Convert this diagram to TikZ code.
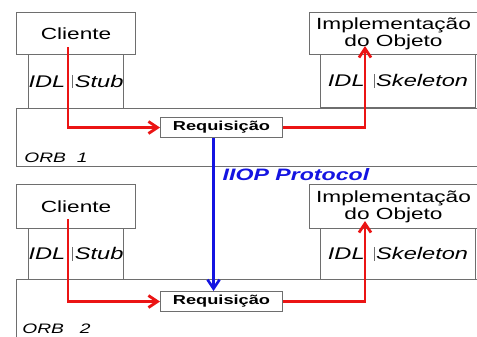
\documentclass[tikz,border=0pt]{standalone}
\usepackage{fontspec}
\setmainfont{Liberation Sans}[FakeStretch=1.4]
\usetikzlibrary{arrows.meta,positioning,calc}
\definecolor{frame}{RGB}{110,110,110}
\definecolor{call}{RGB}{235,20,20}
\definecolor{wire}{RGB}{20,20,225}
\tikzset{
  box/.style n args={2}{draw=frame,fill=white,line width=0.6pt,inner sep=0pt,
    anchor=north west,minimum width=#1,minimum height=#2,align=center,
    font=\fontsize{9.2}{9.6}\selectfont},
  idl/.style={font=\fontsize{9.6}{10}\selectfont\itshape},
  reqbox/.style={box={24.4mm}{4mm},font=\fontsize{7.4}{8}\selectfont\bfseries},
  orbtag/.style={anchor=west,inner sep=0pt,font=\fontsize{7.8}{8}\selectfont\itshape},
  call/.style={draw=call,line width=1.6pt,-{Straight Barb[length=1.8mm,width=2.4mm]}},
  wire/.style={draw=wire,line width=1.5pt,-{Straight Barb[length=1.8mm,width=2.4mm]}},
}
\newcommand{\sep}{{\color{frame}\vrule width 0.6pt height 7pt depth 0.5pt}}

\begin{document}
\begin{tikzpicture}[x=0.2mm,y=-0.2mm]
  \useasboundingbox[fill=white] (0,0) rectangle (477,336);
  % ORB 1
  \node[box={94.4mm}{11.6mm}] (orb1) at (16,108) {};
  \node[box={18.6mm}{10.8mm},idl] (stub1) at (28,54) {IDL\hspace{1.4mm}\sep\hspace{0.3mm}Stub};
  \node[box={23.8mm}{8.4mm}] (cli1) at (16,12) {Cliente};
  \node[box={31mm}{10.6mm},idl] (skel1) at (320,54) {IDL\hspace{1.8mm}\sep\hspace{0.3mm}Skeleton};
  \node[box={33.6mm}{8.4mm}] (impl1) at (309,12) {Implementação\\do Objeto};
  \node[reqbox] (req1) at (160,117) {Requisição};
  \node[orbtag] (tag1) at (24,158) {ORB\hspace{2.2mm}1};
  \coordinate (from1) at (68,47);
  \coordinate (to1) at (365,46);
  \draw[call] (from1) |- (req1);
  \draw[call] (req1) -| (to1);
  % ORB 2
  \node[box={94.4mm}{14mm}] (orb2) at (16,279) {};
  \node[box={18.6mm}{10.2mm},idl] (stub2) at (28,228) {IDL\hspace{1.4mm}\sep\hspace{0.3mm}Stub};
  \node[box={23.8mm}{8.8mm}] (cli2) at (16,184) {Cliente};
  \node[box={31mm}{10.2mm},idl] (skel2) at (320,228) {IDL\hspace{1.8mm}\sep\hspace{0.3mm}Skeleton};
  \node[box={33.6mm}{8.8mm}] (impl2) at (309,184) {Implementação\\do Objeto};
  \node[reqbox] (req2) at (160,291) {Requisição};
  \node[orbtag] (tag2) at (22,329) {ORB\hspace{3.2mm}2};
  \coordinate (from2) at (68,219);
  \coordinate (to2) at (365,221);
  \draw[call] (from2) |- (req2);
  \draw[call] (req2) -| (to2);
  % protocol
  \draw[wire] ([xshift=-1.6mm]req1.south) -- ([xshift=-1.6mm]req2.north)
    node[pos=0.24,anchor=west,xshift=0.4mm,text=wire,
      font=\fontsize{9.4}{10}\selectfont\bfseries\itshape] (iiop) {IIOP Protocol};
\end{tikzpicture}
\end{document}
